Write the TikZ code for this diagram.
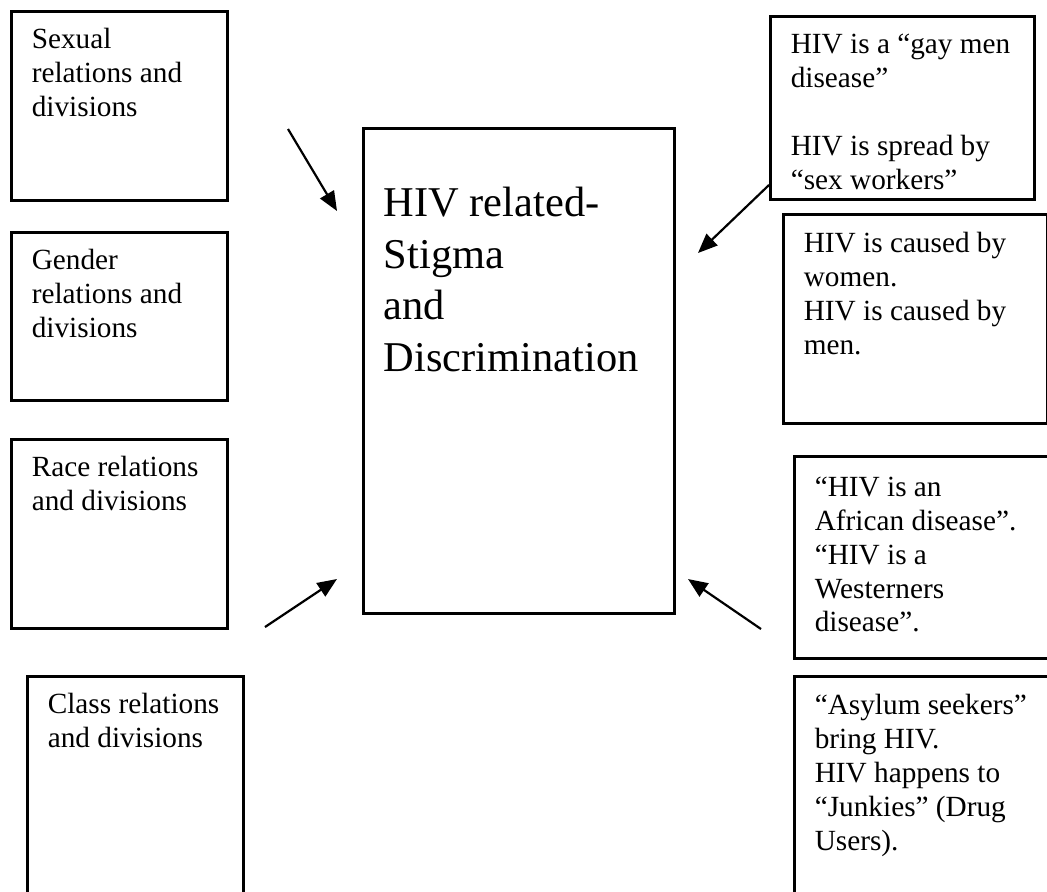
\documentclass[tikz,border=0pt]{standalone}
\usepackage{fontspec}
\setmainfont{Liberation Serif}
\usetikzlibrary{arrows.meta}

\begin{document}
\begin{tikzpicture}[x=0.41pt, y=-0.41pt,
    box/.style={draw, line width=1.1pt, anchor=north west, inner xsep=8.4pt, inner ysep=0pt,
      align=flush left, font=\fontsize{12pt}{13.9pt}\selectfont, text height=15.2pt},
    lbox/.style={box, text width=71.76pt},
    rbox/.style={box, text width=91.44pt},
    arr/.style={-{Triangle[length=8pt, width=6.5pt]}, line width=0.9pt}]
  \useasboundingbox (0,0) rectangle (1047,891);
  \clip (0,0) rectangle (1047,891);

  \node[lbox, text depth=62.3pt] (sexual) at (10,10) {Sexual\\relations and\\divisions};
  \node[lbox, text depth=53.7pt] (gender) at (10,231) {Gender\\relations and\\divisions};
  \node[lbox, text depth=62.3pt] (race) at (10,438) {Race relations\\and divisions};
  \node[lbox, text depth=77pt] (class) at (26,675) {Class relations\\and divisions};

  \node[box, text width=110.7pt, text height=36.1pt, text depth=162.75pt,
    font=\fontsize{17.4pt}{21.2pt}\selectfont] (stigma) at (362,127)
    {HIV related-\\Stigma\\and\\Discrimination};

  \node[rbox, text depth=59.8pt] (gay) at (769,15)
    {HIV is a “gay men\\disease”\\[13.9pt]HIV is spread by\\“sex workers”};
  \node[rbox, text height=15.6pt, text depth=70.1pt] (cause) at (782,213)
    {HIV is caused by\\women.\\HIV is caused by\\men.};
  \node[rbox, text height=16.4pt, text depth=66.4pt] (african) at (793,455)
    {“HIV is an\\African disease”.\\“HIV is a\\Westerners\\disease”.};
  \node[rbox, text height=15.6pt, text depth=76.6pt] (asylum) at (793,675)
    {“Asylum seekers”\\bring HIV.\\HIV happens to\\“Junkies” (Drug\\Users).};

  \coordinate (a1) at (288,129);
  \coordinate (b1) at (337,211);
  \coordinate (a2) at (769,185);
  \coordinate (b2) at (698,253);
  \coordinate (a3) at (265,627);
  \coordinate (b3) at (337,579);
  \coordinate (a4) at (761,629);
  \coordinate (b4) at (688,579);

  \draw[arr] (a1) -- (b1);
  \draw[arr] (a2) -- (b2);
  \draw[arr] (a3) -- (b3);
  \draw[arr] (a4) -- (b4);
\end{tikzpicture}
\end{document}
